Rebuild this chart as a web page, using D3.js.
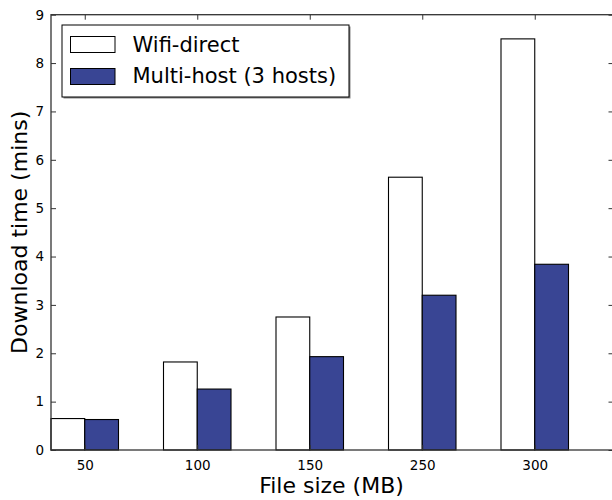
<!DOCTYPE html>
<html><head><meta charset="utf-8">
<script src="https://cdn.jsdelivr.net/npm/d3@7"></script>
<style>body{margin:0;background:#fff}svg{display:block}text{font-family:"DejaVu Sans",sans-serif;fill:#000}</style>
</head><body><svg id="c" width="612" height="500"></svg>
<script>
const categories = ["50","100","150","250","300"];
const wifiDirect = [0.65, 1.82, 2.75, 5.64, 8.5];
const multiHost = [0.63, 1.26, 1.93, 3.2, 3.84];
const yTicks = [0,1,2,3,4,5,6,7,8,9];
const seriesNames = ["Wifi-direct", "Multi-host (3 hosts)"];
const seriesColors = ["#ffffff", "#394594"];

const svg = d3.select("#c");
const L = 51, R = 613.5, T = 14.7, B = 450;
const barW = 0.3;
const x = d3.scaleLinear().domain([0, categories.length]).range([L, R]);
const y = d3.scaleLinear().domain([0, 9]).range([B, T]);

// bars
const series = [wifiDirect, multiHost];
series.forEach((vals, s) => {
  svg.append("g").selectAll("rect").data(vals).join("rect")
    .attr("x", (d, i) => x(i + s * barW))
    .attr("width", (d, i) => x(i + (s + 1) * barW) - x(i + s * barW))
    .attr("y", d => y(d))
    .attr("height", d => y(0) - y(d))
    .attr("fill", seriesColors[s])
    .attr("stroke", "#000").attr("stroke-width", 1.1);
});

// axes
const tickPos = categories.map((c, i) => i + barW);
const xb = d3.axisBottom(x).tickValues(tickPos).tickFormat((d, i) => categories[i]).tickSizeInner(-5).tickSizeOuter(0).tickPadding(10);
const xt = d3.axisTop(x).tickValues(tickPos).tickFormat("").tickSizeInner(-5).tickSizeOuter(0);
const yl = d3.axisLeft(y).tickValues(yTicks).tickFormat(d3.format("d")).tickSizeInner(-5).tickSizeOuter(0).tickPadding(7);
const yr = d3.axisRight(y).tickValues(yTicks).tickFormat("").tickSizeInner(-5).tickSizeOuter(0);

function style(g){
  g.selectAll(".domain").remove();
  g.selectAll("line").attr("stroke", "#333").attr("stroke-width", 1);
  g.selectAll("text").style("font-size", "13.5px").attr("fill", "#000");
}
svg.append("g").attr("transform", `translate(0,${B})`).call(xb).call(style);
svg.append("g").attr("transform", `translate(0,${T})`).call(xt).call(style);
svg.append("g").attr("transform", `translate(${L},0)`).call(yl).call(style);
svg.append("g").attr("transform", `translate(${R},0)`).call(yr).call(style);

// frame
svg.append("rect").attr("x", L).attr("y", T).attr("width", R - L).attr("height", B - T)
  .attr("fill", "none").attr("stroke", "#333").attr("stroke-width", 1.3);

// axis labels
svg.append("text").attr("x", (L + 612) / 2).attr("y", 493).attr("text-anchor", "middle")
  .style("font-size", "22px").text("File size (MB)");
svg.append("text").attr("transform", `translate(27,${(T + B) / 2}) rotate(-90)`).attr("text-anchor", "middle")
  .style("font-size", "22px").text("Download time (mins)");

// legend
const lg = svg.append("g");
lg.append("rect").attr("x", 63.5).attr("y", 26.5).attr("width", 287).attr("height", 72).attr("fill", "#888");
lg.append("rect").attr("x", 62).attr("y", 25).attr("width", 287).attr("height", 72)
  .attr("fill", "#fff").attr("stroke", "#000").attr("stroke-width", 1);
seriesNames.forEach((n, i) => {
  const yy = 36.5 + i * 32;
  lg.append("rect").attr("x", 70.5).attr("y", yy).attr("width", 44.5).attr("height", 16)
    .attr("fill", seriesColors[i]).attr("stroke", "#000").attr("stroke-width", 1);
  lg.append("text").attr("x", 132.5).attr("y", 51.7 + i * 31.6).style("font-size", "21px").text(n);
});
</script></body></html>
